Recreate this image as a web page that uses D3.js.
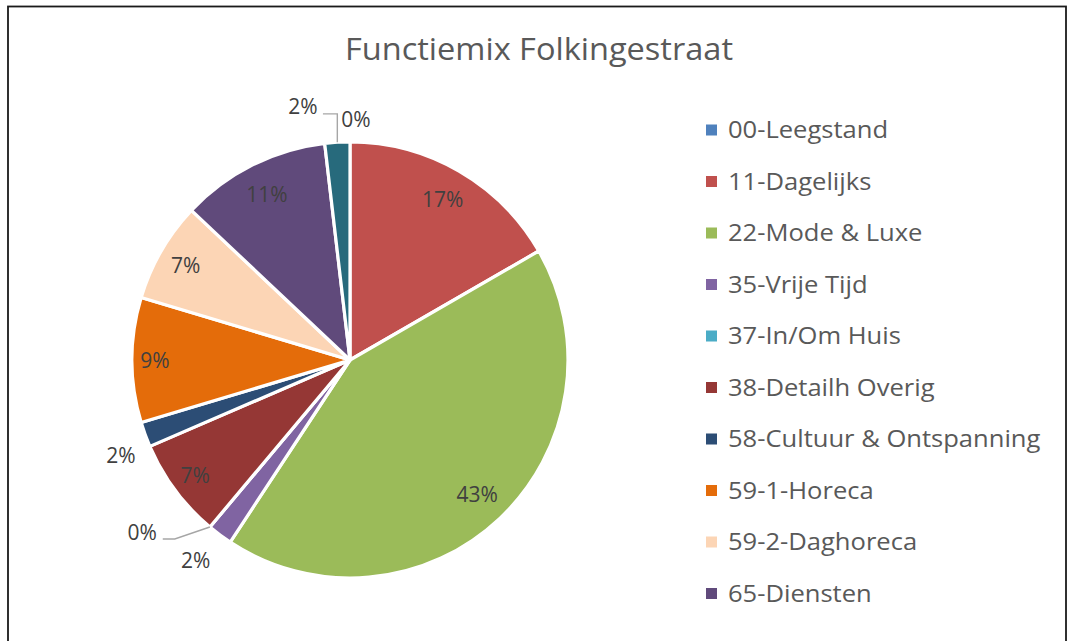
<!DOCTYPE html>
<html>
<head>
<meta charset="utf-8">
<script src="https://cdn.jsdelivr.net/npm/d3@7"></script>
<style>
  html, body { margin: 0; padding: 0; background: #fff; }
  svg { display: block; }
  text { font-family: "Open Sans", "Noto Sans", sans-serif; }
</style>
</head>
<body>
<svg id="chart" width="1067" height="641"></svg>
<script>
// ---- data ----
const title = "Functiemix Folkingestraat";
const categories = [
  "00-Leegstand", "11-Dagelijks", "22-Mode & Luxe", "35-Vrije Tijd",
  "37-In/Om Huis", "38-Detailh Overig", "58-Cultuur & Ontspanning",
  "59-1-Horeca", "59-2-Daghoreca", "65-Diensten", "99-Overig"
];
const values = [0, 9, 23, 1, 0, 4, 1, 5, 4, 6, 1];
const colors = [
  "#4F81BD", "#C0504D", "#9BBB59", "#8064A2", "#4BACC6", "#953735",
  "#2C4D75", "#E46C0A", "#FCD5B5", "#604A7B", "#276A7C"
];
// label placement (layout only): inside, or outside with radius offset / angle shift
const labelPlacement = [
  {pos: "out", dr: 23, da: 1.4},
  {pos: "in"},
  {pos: "in"},
  {pos: "out", dr: 35, da: 0.9},
  {pos: "out", dr: 52, da: 10.3, leader: {type: "h", dx: 20.5, dy: 6.5, run: 12}},
  {pos: "in", k: 0.885},
  {pos: "out", dr: 30, da: -2.6},
  {pos: "in", k: 0.895},
  {pos: "in", k: 0.87},
  {pos: "in", k: 0.85},
  {pos: "out", dr: 39.5, da: -7.2, leader: {type: "v", dx: 20, dy: 7}}
];

// ---- layout ----
const W = 1067, H = 641;
const cx = 350, cy = 360, R = 218;
const svg = d3.select("#chart");

// outer frame
svg.append("rect")
  .attr("x", 8).attr("y", 6.5)
  .attr("width", 1058).attr("height", 680)
  .attr("fill", "none").attr("stroke", "#1a1a1a").attr("stroke-width", 1.8);

// title
svg.append("text")
  .attr("x", 539).attr("y", 60)
  .attr("text-anchor", "middle")
  .attr("font-size", 31)
  .attr("fill", "#595959")
  .attr("transform", "translate(539,0) scale(1.05,1) translate(-539,0)")
  .text(title);

const total = d3.sum(values);
const pie = d3.pie().sort(null).value(d => d.v).startAngle(0).endAngle(2 * Math.PI);
const rows = categories.map((c, i) => ({name: c, v: values[i], color: colors[i], i}));
const arcs = pie(rows);
const arc = d3.arc().innerRadius(0).outerRadius(R);

const g = svg.append("g").attr("transform", `translate(${cx},${cy})`);
g.selectAll("path.slice")
  .data(arcs)
  .join("path")
  .attr("class", "slice")
  .attr("d", arc)
  .attr("fill", d => d.data.color)
  .attr("stroke", "#fff")
  .attr("stroke-width", 3.2)
  .attr("stroke-linejoin", "round");

function polar(r, a) { return [r * Math.sin(a), -r * Math.cos(a)]; }
const fmt = v => Math.round(v / total * 100) + "%";

arcs.forEach((d, i) => {
  const p = labelPlacement[i];
  const mid = (d.startAngle + d.endAngle) / 2;
  let lx, ly;
  if (p.pos === "in") {
    [lx, ly] = polar(R * (p.k || 0.85), mid);
  } else {
    [lx, ly] = polar(R + p.dr, mid + p.da * Math.PI / 180);
  }
  if (p.leader) {
    const L = p.leader;
    const [ax, ay] = polar(R, mid);
    const sx = lx + L.dx, sy = ly + L.dy;
    let pts;
    if (L.type === "v") pts = [[sx, sy], [ax, sy], [ax, ay]];
    else pts = [[sx, sy], [sx + L.run, sy], [ax, ay]];
    g.append("path")
      .attr("d", d3.line()(pts))
      .attr("fill", "none")
      .attr("stroke", "#A6A6A6")
      .attr("stroke-width", 1.4);
  }
  g.append("text")
    .attr("x", lx).attr("y", ly)
    .attr("dy", "0.36em")
    .attr("text-anchor", "middle")
    .attr("font-size", 21)
    .attr("fill", "#404040")
    .text(fmt(d.data.v));
});

// legend (entries that do not fit in the chart area are omitted)
const legX = 706, legY0 = 130, legStep = 51.5, key = 11;
const legRows = rows.filter((r, i) => legY0 + i * legStep + 10 < H);
const leg = svg.append("g");
const item = leg.selectAll("g.item").data(legRows).join("g")
  .attr("class", "item")
  .attr("transform", (d, i) => `translate(0,${legY0 + i * legStep})`);
item.append("rect")
  .attr("x", legX).attr("y", -key / 2)
  .attr("width", key).attr("height", key)
  .attr("fill", d => d.color);
item.append("text")
  .attr("x", 728).attr("y", 0)
  .attr("dy", "0.35em")
  .attr("font-size", 24)
  .attr("fill", "#595959")
  .attr("transform", "translate(728,0) scale(1.065,1) translate(-728,0)")
  .text(d => d.name);
</script>
</body>
</html>
